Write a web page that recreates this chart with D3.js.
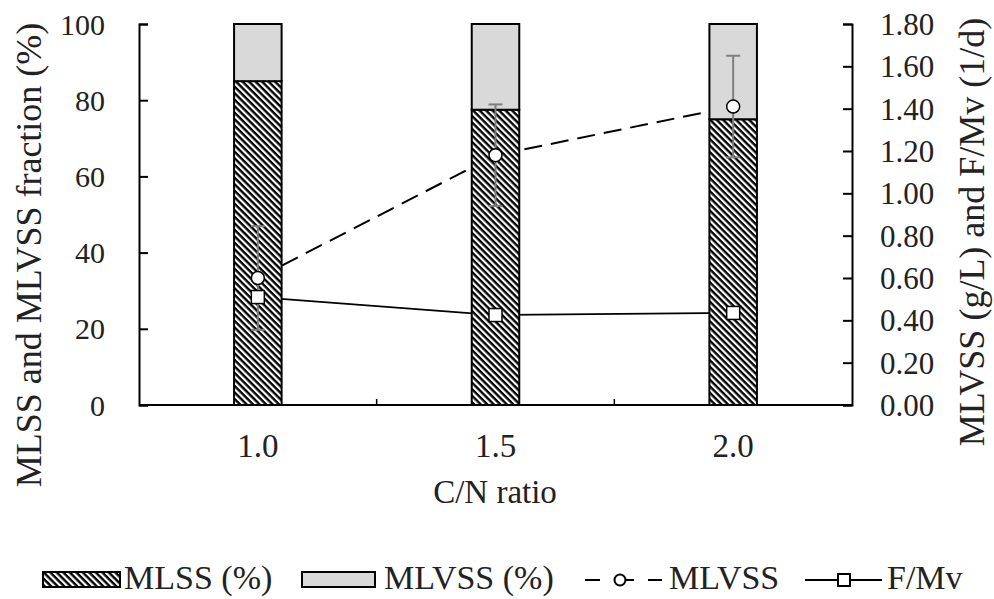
<!DOCTYPE html>
<html>
<head>
<meta charset="utf-8">
<script src="https://cdn.jsdelivr.net/npm/d3@7"></script>
<style>
  html, body { margin: 0; padding: 0; background: #fff; }
  text { font-family: 'Liberation Serif', Tinos, 'Times New Roman', 'DejaVu Serif', serif; }
</style>
</head>
<body>
<svg id="chart" width="994" height="599"></svg>
<script>
// ---- data ----
const categories = ["1.0", "1.5", "2.0"];
const mlssPct = [85, 77.5, 75];
const mlvssPct = [15, 22.5, 25];
const mlvss = [0.60, 1.18, 1.41];
const mlvssErr = [0.245, 0.24, 0.24];
const fmv = [0.51, 0.425, 0.435];
const leftTicks = [0, 20, 40, 60, 80, 100];
const rightTicks = [0, 0.2, 0.4, 0.6, 0.8, 1.0, 1.2, 1.4, 1.6, 1.8];

const FONT = "'Liberation Serif', Tinos, 'Times New Roman', 'DejaVu Serif', serif";
const svg = d3.select("#chart");
const L = 139, R = 852, T = 24, B = 405;

const x = d3.scaleBand().domain(categories).range([L, R]).paddingInner(0.8).paddingOuter(0.4);
const yL = d3.scaleLinear().domain([0, 100]).range([B, T]);
const yR = d3.scaleLinear().domain([0, 1.8]).range([B, T]);
const cx = c => x(c) + x.bandwidth() / 2;

// hatch pattern
const defs = svg.append("defs");
const pat = defs.append("pattern").attr("id", "hatch").attr("patternUnits", "userSpaceOnUse")
  .attr("width", 4.6).attr("height", 4.6).attr("patternTransform", "rotate(-45)");
pat.append("rect").attr("width", 4.6).attr("height", 4.6).attr("fill", "#000");
pat.append("rect").attr("x", 0).attr("width", 2.2).attr("height", 4.6).attr("fill", "#fff");

// lines (behind bars)
const lineM = d3.line().x((d, i) => cx(categories[i])).y(d => yR(d));
svg.append("path").datum(mlvss).attr("d", lineM).attr("fill", "none")
  .attr("stroke", "#000").attr("stroke-width", 2).attr("stroke-dasharray", "18,9");
svg.append("path").datum(fmv).attr("d", lineM).attr("fill", "none")
  .attr("stroke", "#000").attr("stroke-width", 1.8);

// bars
const bars = svg.append("g");
categories.forEach((c, i) => {
  bars.append("rect").attr("x", x(c)).attr("width", x.bandwidth())
    .attr("y", yL(mlssPct[i])).attr("height", yL(0) - yL(mlssPct[i]))
    .attr("fill", "url(#hatch)").attr("stroke", "#000").attr("stroke-width", 2);
  bars.append("rect").attr("x", x(c)).attr("width", x.bandwidth())
    .attr("y", yL(mlssPct[i] + mlvssPct[i])).attr("height", yL(0) - yL(mlvssPct[i]))
    .attr("fill", "#d9d9d9").attr("stroke", "#000").attr("stroke-width", 2);
});

// axes
const axL = svg.append("g").attr("transform", `translate(${L},0)`)
  .call(d3.axisRight(yL).tickValues(leftTicks).tickSize(9).tickFormat(""));
const axR = svg.append("g").attr("transform", `translate(${R},0)`)
  .call(d3.axisLeft(yR).tickValues(rightTicks).tickSize(9).tickFormat(""));
[axL, axR].forEach(a => {
  a.select(".domain").attr("stroke", "#000").attr("stroke-width", 2);
  a.selectAll(".tick line").attr("stroke", "#000").attr("stroke-width", 2);
});
svg.append("line").attr("x1", L).attr("x2", R).attr("y1", B).attr("y2", B)
  .attr("stroke", "#000").attr("stroke-width", 2);
categories.slice(0, -1).forEach(c => {
  const xp = x(c) + x.bandwidth() / 2 + x.step() / 2;
  svg.append("line").attr("x1", xp).attr("x2", xp).attr("y1", B).attr("y2", B - 6)
    .attr("stroke", "#000").attr("stroke-width", 1.5);
});

// tick labels
svg.append("g").selectAll("text").data(leftTicks).join("text")
  .attr("font-family", FONT)
  .attr("x", 105).attr("y", d => yL(d)).attr("dy", "0.35em").attr("text-anchor", "end")
  .attr("font-size", 30).attr("fill", "#222").text(d => d);
svg.append("g").selectAll("text").data(rightTicks).join("text")
  .attr("font-family", FONT)
  .attr("x", 880).attr("y", d => yR(d)).attr("dy", "0.35em").attr("text-anchor", "start")
  .attr("font-size", 31).attr("fill", "#222").text(d => d3.format(".2f")(d));
svg.append("g").selectAll("text").data(categories).join("text")
  .attr("font-family", FONT)
  .attr("x", d => cx(d)).attr("y", 457).attr("text-anchor", "middle")
  .attr("font-size", 33).attr("fill", "#222").text(d => d);

// axis titles
svg.append("text").attr("font-family", FONT).attr("x", 495).attr("y", 503).attr("text-anchor", "middle")
  .attr("font-size", 33).attr("fill", "#222").text("C/N ratio");
svg.append("text").attr("font-family", FONT).attr("transform", "translate(41,255) rotate(-90)").attr("text-anchor", "middle")
  .attr("font-size", 36).attr("fill", "#222").text("MLSS and MLVSS fraction (%)");
svg.append("text").attr("font-family", FONT).attr("transform", "translate(984,232) rotate(-90)").attr("text-anchor", "middle")
  .attr("font-size", 36).attr("fill", "#222").text("MLVSS (g/L) and F/Mv (1/d)");

// error bars
const eb = svg.append("g").attr("stroke", "#7f7f7f").attr("stroke-width", 2);
categories.forEach((c, i) => {
  const xc = cx(c);
  const y1 = yR(mlvss[i] + mlvssErr[i]), y2 = yR(mlvss[i] - mlvssErr[i]);
  eb.append("line").attr("x1", xc).attr("x2", xc).attr("y1", y1).attr("y2", y2);
  eb.append("line").attr("x1", xc - 7).attr("x2", xc + 7).attr("y1", y1).attr("y2", y1);
  eb.append("line").attr("x1", xc - 7).attr("x2", xc + 7).attr("y1", y2).attr("y2", y2);
});

// markers
svg.append("g").selectAll("circle").data(mlvss).join("circle")
  .attr("cx", (d, i) => cx(categories[i])).attr("cy", d => yR(d)).attr("r", 6.5)
  .attr("fill", "#fff").attr("stroke", "#000").attr("stroke-width", 1.5);
svg.append("g").selectAll("rect").data(fmv).join("rect")
  .attr("x", (d, i) => cx(categories[i]) - 6.5).attr("y", d => yR(d) - 6.5)
  .attr("width", 13).attr("height", 13)
  .attr("fill", "#fff").attr("stroke", "#000").attr("stroke-width", 1.5);

// legend
const lg = svg.append("g");
lg.append("rect").attr("x", 43).attr("y", 572).attr("width", 77).attr("height", 15)
  .attr("fill", "url(#hatch)").attr("stroke", "#000").attr("stroke-width", 2);
lg.append("text").attr("font-family", FONT).attr("x", 124).attr("y", 589).attr("font-size", 34).attr("fill", "#222").text("MLSS (%)");
lg.append("rect").attr("x", 302).attr("y", 572).attr("width", 73).attr("height", 15)
  .attr("fill", "#d9d9d9").attr("stroke", "#000").attr("stroke-width", 2);
lg.append("text").attr("font-family", FONT).attr("x", 384).attr("y", 589).attr("font-size", 34).attr("fill", "#222").text("MLVSS (%)");
lg.append("line").attr("x1", 585).attr("x2", 600).attr("y1", 580).attr("y2", 580).attr("stroke", "#000").attr("stroke-width", 2);
lg.append("line").attr("x1", 626).attr("x2", 634).attr("y1", 580).attr("y2", 580).attr("stroke", "#000").attr("stroke-width", 2);
lg.append("line").attr("x1", 648).attr("x2", 662).attr("y1", 580).attr("y2", 580).attr("stroke", "#000").attr("stroke-width", 2);
lg.append("circle").attr("cx", 620).attr("cy", 580).attr("r", 5.5).attr("fill", "#fff").attr("stroke", "#000").attr("stroke-width", 2);
lg.append("text").attr("font-family", FONT).attr("x", 669).attr("y", 589).attr("font-size", 34).attr("fill", "#222").text("MLVSS");
lg.append("line").attr("x1", 805).attr("x2", 882).attr("y1", 580).attr("y2", 580).attr("stroke", "#000").attr("stroke-width", 2);
lg.append("rect").attr("x", 838).attr("y", 574).attr("width", 12).attr("height", 12).attr("fill", "#fff").attr("stroke", "#000").attr("stroke-width", 2);
lg.append("text").attr("font-family", FONT).attr("x", 887).attr("y", 589).attr("font-size", 34).attr("fill", "#222").text("F/Mv");
</script>
</body>
</html>
